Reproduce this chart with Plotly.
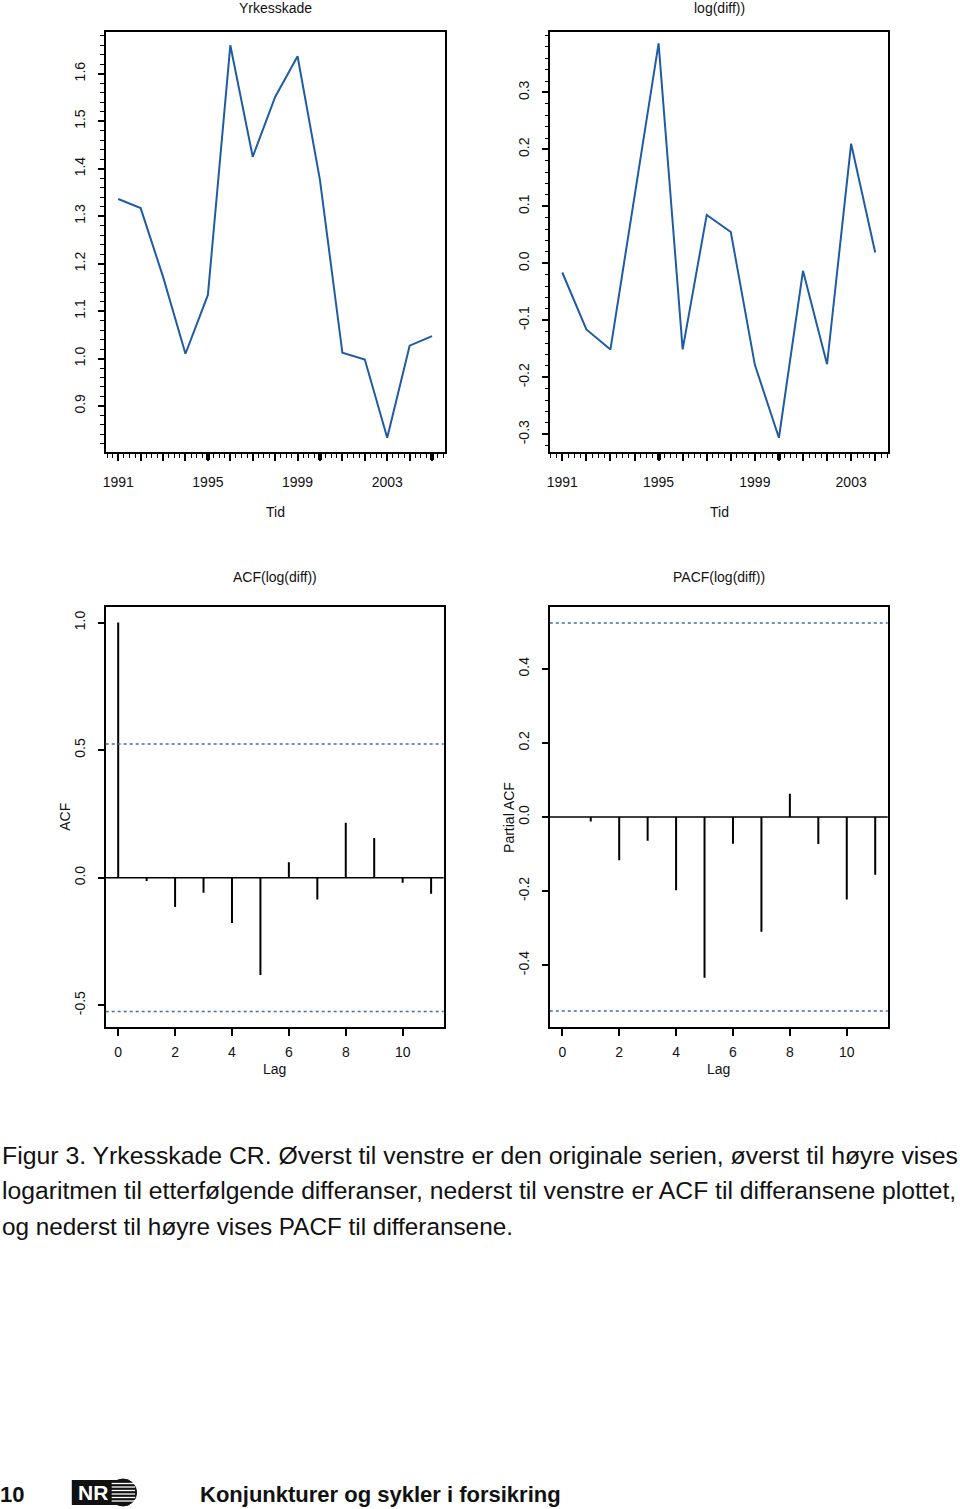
import plotly.graph_objects as go

W, H = 960, 1509

# ---------------- data ----------------
YEARS = list(range(1991, 2006))
YRKESSKADE = [1.336, 1.317, 1.172, 1.010, 1.134, 1.660, 1.425, 1.551,
              1.637, 1.376, 1.012, 0.998, 0.833, 1.027, 1.047]
DIFF_YEARS = list(range(1991, 2005))
LOG_DIFF = [-0.016, -0.116, -0.151, 0.116, 0.386, -0.151, 0.085, 0.055,
            -0.178, -0.306, -0.013, -0.177, 0.210, 0.019]
ACF_LAGS = list(range(0, 12))
ACF_VALUES = [1.0, -0.013, -0.115, -0.059, -0.177, -0.381, 0.061, -0.085,
              0.215, 0.156, -0.020, -0.063]
PACF_LAGS = list(range(1, 12))
PACF_VALUES = [-0.012, -0.117, -0.064, -0.198, -0.434, -0.072, -0.310,
               0.063, -0.073, -0.223, -0.156]
CONF_BOUND = 0.524
YEAR_LABELS = [1991, 1995, 1999, 2003]
THICK_YEARS = [1995, 2000, 2005]
LAG_TICKS = [0, 2, 4, 6, 8, 10]
TL_YTICKS = [0.9, 1.0, 1.1, 1.2, 1.3, 1.4, 1.5, 1.6]
TR_YTICKS = [-0.3, -0.2, -0.1, 0.0, 0.1, 0.2, 0.3]
ACF_YTICKS = [-0.5, 0.0, 0.5, 1.0]
PACF_YTICKS = [-0.4, -0.2, 0.0, 0.2, 0.4]

CAPTION = [
    "Figur 3. Yrkesskade CR. Øverst til venstre er den originale serien, øverst til høyre vises",
    "logaritmen til etterfølgende differanser, nederst til venstre er ACF til differansene plottet,",
    "og nederst til høyre vises PACF til differansene.",
]
CAPTION_SIZES = [24.8, 24.7, 24.3]

FONT = "Liberation Sans, Arial, sans-serif"
BLUE = "#1f5ca3"
DOT_BLUE = "#3b6fae"


def px(x, dx=None):
    if dx is None:
        dx = -2 if x < 480 else -0.5
    return (x + dx) / W


def py(y):
    return 1 - y / H


def dom_x(a, b):
    return [px(a), px(b, px_shift(a))]


def px_shift(a):
    return -2 if a < 480 else -0.5


def dom_y(top, bottom):
    return [py(bottom), py(top)]


def stems(xs, ys):
    sx, sy = [], []
    for x, y in zip(xs, ys):
        sx += [x, x, None]
        sy += [0, y, None]
    return sx, sy


fig = go.Figure()

fig.add_trace(go.Scatter(x=YEARS, y=YRKESSKADE, mode="lines",
                         line=dict(color=BLUE, width=2), xaxis="x", yaxis="y",
                         showlegend=False))
fig.add_trace(go.Scatter(x=DIFF_YEARS, y=LOG_DIFF, mode="lines",
                         line=dict(color=BLUE, width=2), xaxis="x2", yaxis="y2",
                         showlegend=False))
sx, sy = stems(ACF_LAGS, ACF_VALUES)
fig.add_trace(go.Scatter(x=sx, y=sy, mode="lines", line=dict(color="black", width=2),
                         xaxis="x3", yaxis="y3", showlegend=False))
sx, sy = stems(PACF_LAGS, PACF_VALUES)
fig.add_trace(go.Scatter(x=sx, y=sy, mode="lines", line=dict(color="black", width=2),
                         xaxis="x4", yaxis="y4", showlegend=False))
fig.add_trace(go.Scatter(x=[YEARS[0]], y=[None], mode="lines", xaxis="x5", yaxis="y",
                         showlegend=False, hoverinfo="skip"))
fig.add_trace(go.Scatter(x=[DIFF_YEARS[0]], y=[None], mode="lines", xaxis="x6", yaxis="y2",
                         showlegend=False, hoverinfo="skip"))

common = dict(showline=True, mirror=True, linecolor="black", linewidth=1.5,
              ticks="outside", tickcolor="black", tickwidth=1.5, showgrid=False,
              zeroline=False, tickfont=dict(family=FONT, size=14, color="#111"))

tl_range = [YEARS[0] - 0.56, YEARS[-1] + 0.56]
tr_range = [DIFF_YEARS[0] - 0.52, DIFF_YEARS[-1] + 0.52]


def year_text(years):
    return [str(y) if y in YEAR_LABELS else "" for y in years]


def fmt(vals):
    return [f"{v:.1f}" for v in vals]


fig.update_layout(
    width=W, height=H, margin=dict(l=0, r=0, t=0, b=0),
    paper_bgcolor="white", plot_bgcolor="white",
    font=dict(family=FONT, size=14, color="#111"),
    xaxis=dict(domain=dom_x(105, 445), anchor="y", range=tl_range,
               tickmode="array", tickvals=YEARS, ticktext=year_text(YEARS),
               ticklen=7, ticklabelstandoff=9,
               minor=dict(tickmode="linear", tick0=YEARS[0], dtick=0.25,
                          ticklen=4, ticks="outside", tickcolor="black", tickwidth=1.2),
               **common),
    yaxis=dict(domain=dom_y(32, 452), anchor="x", range=[0.803, 1.688],
               tickmode="array", tickvals=TL_YTICKS, ticktext=fmt(TL_YTICKS),
               tickangle=-90, ticklen=6, ticklabelstandoff=7,
               minor=dict(tickmode="linear", tick0=0.8, dtick=0.02,
                          ticklen=3.5, ticks="outside", tickcolor="black", tickwidth=1.2),
               **common),
    xaxis2=dict(domain=dom_x(549, 888), anchor="y2", range=tr_range,
                tickmode="array", tickvals=DIFF_YEARS, ticktext=year_text(DIFF_YEARS),
                ticklen=7, ticklabelstandoff=9,
                minor=dict(tickmode="linear", tick0=DIFF_YEARS[0], dtick=0.25,
                           ticklen=4, ticks="outside", tickcolor="black", tickwidth=1.2),
                **common),
    yaxis2=dict(domain=dom_y(32, 452), anchor="x2", range=[-0.331, 0.406],
                tickmode="array", tickvals=TR_YTICKS, ticktext=fmt(TR_YTICKS),
                tickangle=-90, ticklen=6, ticklabelstandoff=7,
                minor=dict(tickmode="linear", tick0=-0.4, dtick=0.02,
                           ticklen=3.5, ticks="outside", tickcolor="black", tickwidth=1.2),
                **common),
    xaxis3=dict(domain=dom_x(105, 444), anchor="y3", range=[-0.44, 11.44],
                tickmode="array", tickvals=LAG_TICKS, ticklen=7, ticklabelstandoff=4,
                **common),
    yaxis3=dict(domain=dom_y(607, 1027), anchor="x3", range=[-0.585, 1.061],
                tickmode="array", tickvals=ACF_YTICKS, ticktext=fmt(ACF_YTICKS),
                tickangle=-90, ticklen=6, ticklabelstandoff=7, **common),
    xaxis4=dict(domain=dom_x(549, 888), anchor="y4", range=[-0.44, 11.44],
                tickmode="array", tickvals=LAG_TICKS, ticklen=7, ticklabelstandoff=4,
                **common),
    yaxis4=dict(domain=dom_y(607, 1027), anchor="x4", range=[-0.567, 0.567],
                tickmode="array", tickvals=PACF_YTICKS, ticktext=fmt(PACF_YTICKS),
                tickangle=-90, ticklen=6, ticklabelstandoff=7, **common),
    xaxis5=dict(overlaying="x", anchor="y", range=tl_range, tickmode="array",
                tickvals=THICK_YEARS, ticks="outside", ticklen=7, tickwidth=4,
                tickcolor="black", showticklabels=False, showgrid=False,
                zeroline=False, showline=False),
    xaxis6=dict(overlaying="x2", anchor="y2", range=tr_range, tickmode="array",
                tickvals=THICK_YEARS, ticks="outside", ticklen=7, tickwidth=4,
                tickcolor="black", showticklabels=False, showgrid=False,
                zeroline=False, showline=False),
)

shapes = []
for xa, ya in (("x3", "y3"), ("x4", "y4")):
    shapes.append(dict(type="line", xref=f"{xa} domain", yref=ya, x0=0, x1=1,
                       y0=0, y1=0, line=dict(color="black", width=1.5)))
    for b in (CONF_BOUND, -CONF_BOUND):
        shapes.append(dict(type="line", xref=f"{xa} domain", yref=ya, x0=0, x1=1,
                           y0=b, y1=b, line=dict(color=DOT_BLUE, width=1.6, dash="dot")))

# NR logo (decoration)
shapes.append(dict(type="rect", xref="paper", yref="paper", x0=px(71), x1=px(117),
                   y0=py(1505), y1=py(1480), fillcolor="#111", line=dict(width=0)))
shapes.append(dict(type="circle", xref="paper", yref="paper", x0=px(109), x1=px(136),
                   y0=py(1506), y1=py(1479), fillcolor="#111", line=dict(color="#111", width=1)))
for yy in (1483.5, 1487, 1490.5, 1494, 1497.5, 1501):
    shapes.append(dict(type="line", xref="paper", yref="paper", x0=px(111), x1=px(134.5),
                       y0=py(yy), y1=py(yy), line=dict(color="white", width=1.3)))
fig.update_layout(shapes=shapes)

ann = []


def text(x, y, s, size=14, xanchor="center", angle=0, bold=False, color="#111"):
    ann.append(dict(x=px(x), y=py(y), xref="paper", yref="paper",
                    text=f"<b>{s}</b>" if bold else s,
                    showarrow=False, xanchor=xanchor, yanchor="middle", textangle=angle,
                    font=dict(family=FONT, size=size, color=color)))


text(275, 8, "Yrkesskade")
text(719, 8, "log(diff))")
text(275, 512, "Tid")
text(719, 512, "Tid")
text(275, 577, "ACF(log(diff))")
text(719, 577, "PACF(log(diff))")
text(274, 1069, "Lag")
text(718, 1069, "Lag")
text(64, 817, "ACF", angle=-90)
text(508, 817, "Partial ACF", angle=-90)

for i, line in enumerate(CAPTION):
    text(-1, 1155 + 35.5 * i, line, size=CAPTION_SIZES[i], xanchor="left")

text(-3, 1494, "10", size=22, xanchor="left", bold=True)
text(92, 1492.5, "NR", size=21, bold=True, color="white")
text(198, 1494, "Konjunkturer og sykler i forsikring", size=22, xanchor="left", bold=True)

fig.update_layout(annotations=ann)

fig.write_html(
    "out.html",
    config={"displayModeBar": False},
    post_script="document.body.style.margin='0px';document.body.style.padding='0px';"
                "document.documentElement.style.overflow='hidden';",
)
